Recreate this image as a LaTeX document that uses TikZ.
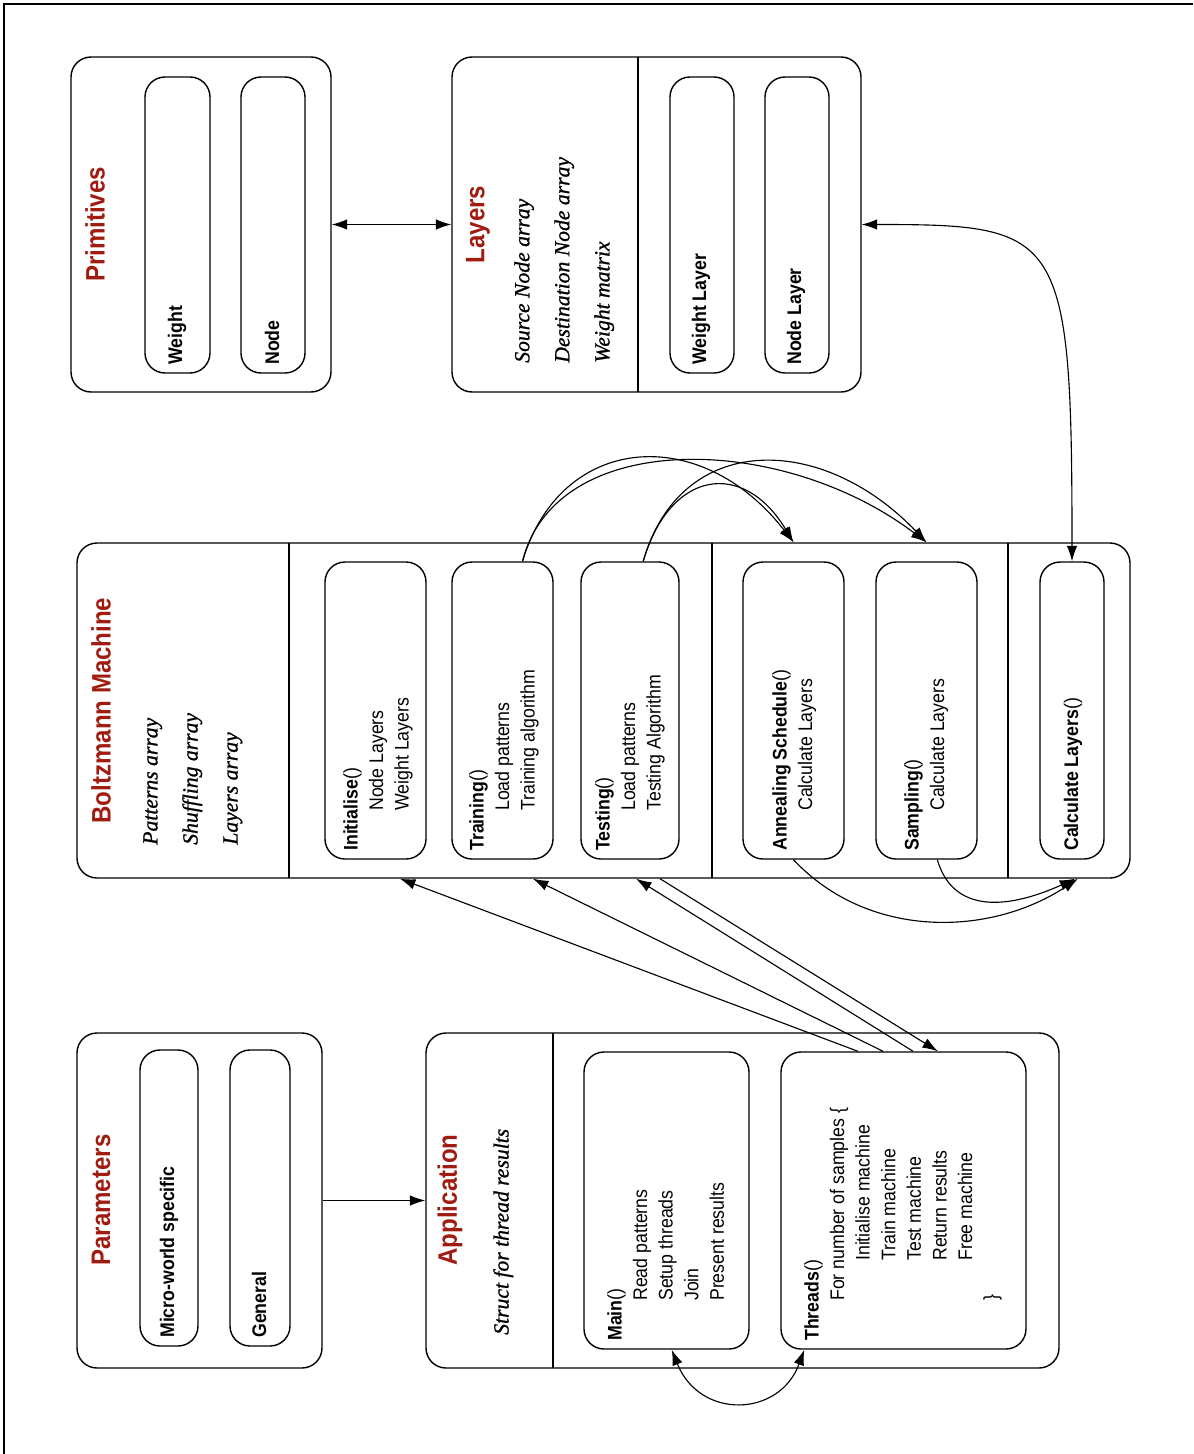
\documentclass[tikz,border=0pt]{standalone}
\usepackage{fontspec}
\usetikzlibrary{arrows.meta,fit}
\newfontfamily\narrowsf[FakeStretch=0.9]{Liberation Sans}
\newfontfamily\slantserif[FakeBold=1]{Liberation Serif}
\definecolor{titlered}{RGB}{160,28,16}
\newcommand{\ind}{\hspace*{1cm}}
\tikzset{
  outerbox/.style={draw, line width=1pt, rounded corners=0.5cm, inner sep=0pt},
  innerbox/.style={draw, line width=1pt, rounded corners=0.5cm, inner sep=0pt},
  boxtitle/.style={rotate=90, inner sep=0pt, text=titlered, font=\narrowsf\bfseries\fontsize{19}{22}\selectfont},
  boxattr/.style={rotate=90, inner sep=0pt, anchor=north west, align=left, font=\slantserif\itshape\fontsize{15.4}{28.5}\selectfont},
  boxtext/.style={rotate=90, inner sep=0pt, anchor=north west, align=left, font=\narrowsf\fontsize{14}{18.2}\selectfont},
  boxname/.style={rotate=90, inner sep=0pt, anchor=west, font=\narrowsf\bfseries\fontsize{14}{18.2}\selectfont},
  conn/.style={line width=0.8pt},
  divider/.style={line width=1pt}
}
\begin{document}
\begin{tikzpicture}[x=0.025cm, y=-0.025cm, >={Latex[length=11pt,width=7.5pt]}]
\useasboundingbox (0,0) rectangle (1193,1454);
\draw[line width=0.8pt] (4,1454) -- (4,4) -- (1193,4);

% primitives
\node[outerbox, fit={(71,57) (331,392)}] (prim) {};
\node[innerbox, fit={(145,77) (210,373)}] (pweight) {};
\node[innerbox, fit={(241,77) (305,373)}] (pnode) {};
\node[boxtitle] (tprim) at (95,224.5) {Primitives};
\node[boxname] (lweight) at (177,365) {Weight};
\node[boxname] (lnode) at (272,365) {Node};

% layers
\node[outerbox, fit={(452,57) (861,392)}] (layers) {};
\draw[divider] (638,57) -- (638,392);
\node[innerbox, fit={(670,77) (734,373)}] (wlayer) {};
\node[innerbox, fit={(765,77) (829,373)}] (nlayer) {};
\node[boxtitle] (tlayers) at (478,224.5) {Layers};
\node[boxattr] (alayers) at (514,363) {Source Node array\\Destination Node array\\Weight matrix};
\node[boxname] (lwlayer) at (701,365) {Weight Layer};
\node[boxname] (lnlayer) at (796,365) {Node Layer};

% boltzmann machine
\node[outerbox, fit={(77,543) (1130,878)}] (bm) {};
\draw[divider] (289,543) -- (289,878) (712,543) -- (712,878) (1008,543) -- (1008,878);
\node[innerbox, fit={(325,562) (426,859)}] (init) {};
\node[innerbox, fit={(452,562) (553,859)}] (train) {};
\node[innerbox, fit={(581,562) (679,859)}] (test) {};
\node[innerbox, fit={(743,562) (844,859)}] (ann) {};
\node[innerbox, fit={(876,562) (977,859)}] (samp) {};
\node[innerbox, fit={(1040,562) (1104,859)}] (calc) {};
\node[boxtitle] (tbm) at (101,710.5) {Boltzmann Machine};
\node[boxattr] (abm) at (143,845) {Patterns array\\Shuffling array\\Layers array};
\node[boxtext] (linit) at (343,851) {\textbf{Initialise}()\\\ind Node Layers\\\ind Weight Layers};
\node[boxtext] (ltrain) at (469,851) {\textbf{Training}()\\\ind Load patterns\\\ind Training algorithm};
\node[boxtext] (ltest) at (595,851) {\textbf{Testing}()\\\ind Load patterns\\\ind Testing Algorithm};
\node[boxtext] (lann) at (772,851) {\textbf{Annealing Schedule}()\\\ind Calculate Layers};
\node[boxtext] (lsamp) at (904,851) {\textbf{Sampling}()\\\ind Calculate Layers};
\node[boxname] (lcalc) at (1073,851) {Calculate Layers\textmd{()}};

% parameters
\node[outerbox, fit={(77,1033) (322,1368)}] (params) {};
\node[innerbox, fit={(140,1050) (198,1346)}] (micro) {};
\node[innerbox, fit={(230,1050) (290,1346)}] (gen) {};
\node[boxtitle] (tparams) at (101,1200) {Parameters};
\node[boxname] (lmicro) at (169,1338) {Micro-world specific};
\node[boxname] (lgen) at (259,1338) {General};

% application
\node[outerbox, fit={(426,1033) (1059,1368)}] (app) {};
\draw[divider] (553,1033) -- (553,1368);
\node[innerbox, fit={(584,1052) (749,1349)}] (main) {};
\node[innerbox, fit={(781,1052) (1026,1349)}] (thr) {};
\node[boxtitle] (tapp) at (450,1200) {Application};
\node[boxattr] (aapp) at (493,1335) {Struct for thread results};
\node[boxtext] (lmain) at (607,1341) {\textbf{Main}()\\\ind Read patterns\\\ind Setup threads\\\ind Join\\\ind Present results};
\node[boxtext] (lthr) at (804,1341) {\textbf{Threads}()\\\ind For number of samples \{\\\ind\ind Initialise machine\\\ind\ind Train machine\\\ind\ind Test machine\\\ind\ind Return results\\\ind\ind Free machine\\\ind \}};

% connectors
\draw[conn,<->] (prim.east) -- (layers.west);
\draw[conn,->] (params.east) -- (app.west);
\draw[conn,<->] (layers.east) .. controls +(200,0) and +(0,-330) .. (calc.north);
\draw[conn,->] ([xshift=0.5cm]train.north) .. controls +(38,-128) and +(-93,-120) .. (bm.north -| ann.north);
\draw[conn,->] ([xshift=0.5cm]train.north) .. controls +(33,-133) and +(-145,-110) .. (bm.north -| samp.north);
\draw[conn,->] ([xshift=0.33cm]test.north) .. controls +(27,-92) and +(-50,-83) .. (bm.north -| ann.north);
\draw[conn,->] ([xshift=0.33cm]test.north) .. controls +(37,-130) and +(-105,-110) .. (bm.north -| samp.north);
\draw[conn,->] ([xshift=-1.14cm]thr.north) -- ([xshift=0.61cm]init.south |- bm.south);
\draw[conn,->] ([xshift=-0.51cm]thr.north) -- ([xshift=0.76cm]train.south |- bm.south);
\draw[conn,->] ([xshift=0.24cm]thr.north) -- ([xshift=0.15cm]test.south |- bm.south);
\draw[conn,->] ([xshift=0.75cm]test.south |- bm.south) -- ([xshift=0.86cm]thr.north);
\draw[conn,->] (ann.south) .. controls +(75,80) and +(-88,58) .. ([xshift=0.15cm]calc.south |- bm.south);
\draw[conn,->] ([xshift=0.27cm]samp.south) .. controls +(18,61) and +(-55,25) .. ([xshift=0.08cm]calc.south |- bm.south);
\draw[conn,<->] ([xshift=0.13cm]main.south) .. controls +(28,70) and +(-25,68) .. ([xshift=0.6cm]thr.south west);
\end{tikzpicture}
\end{document}
